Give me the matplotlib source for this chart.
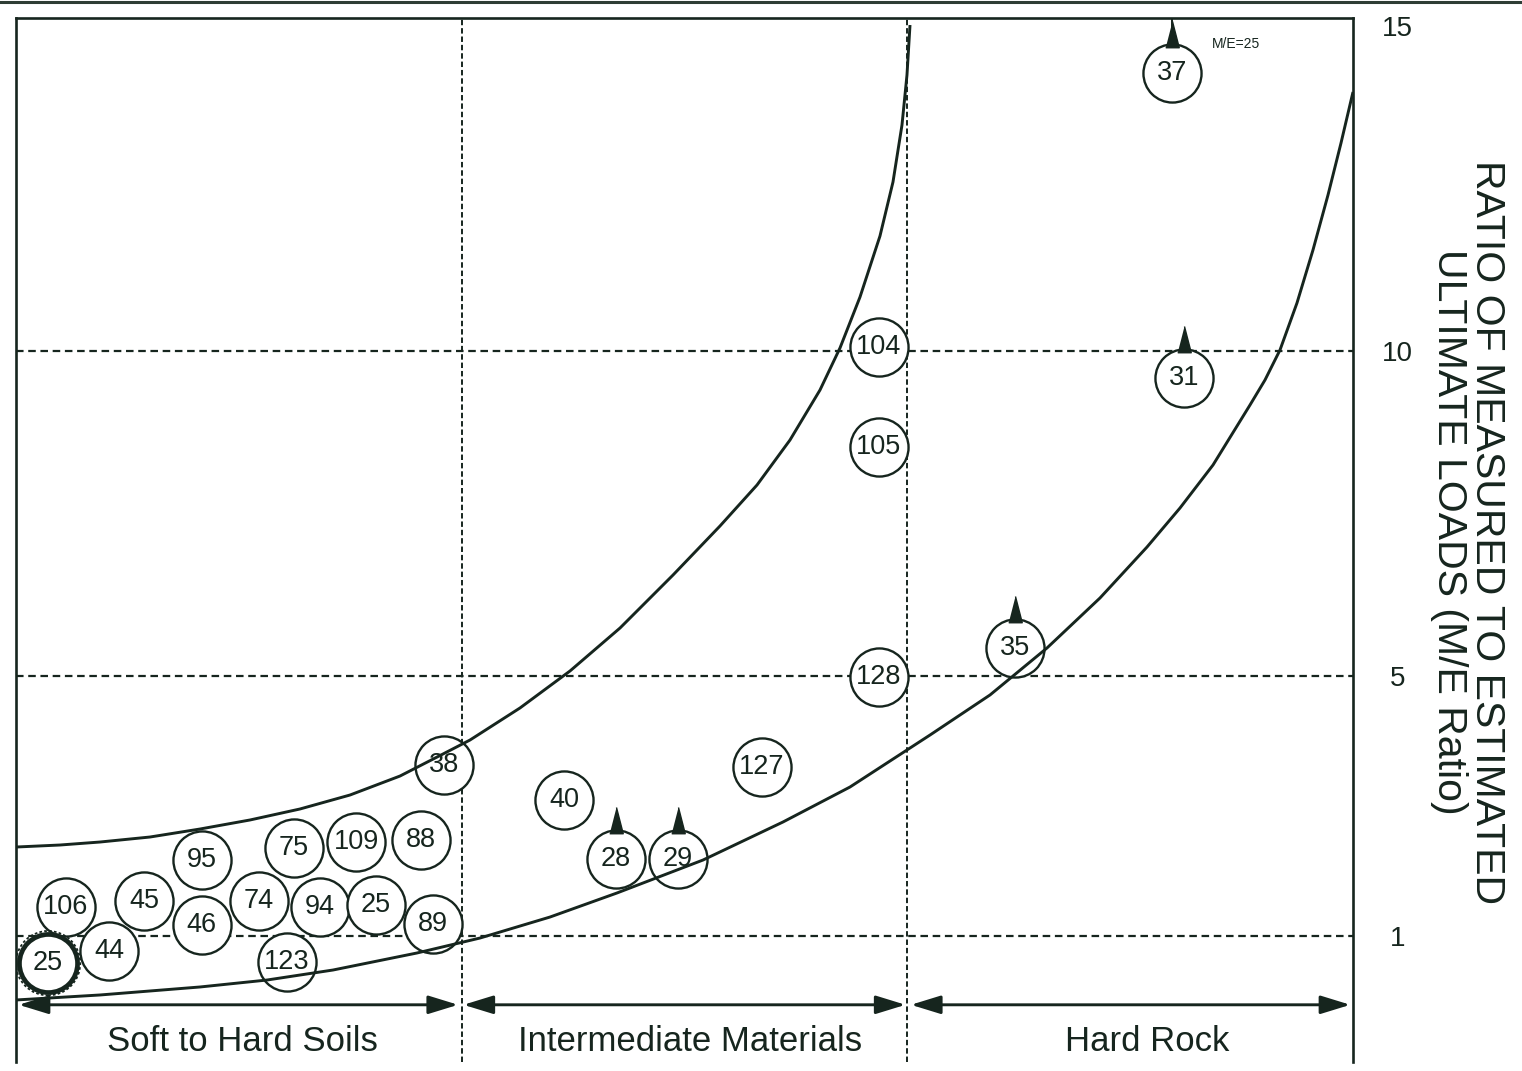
import matplotlib
matplotlib.use("Agg")
import matplotlib.pyplot as plt
from matplotlib.transforms import offset_copy
from matplotlib.lines import Line2D

plt.rcParams["font.family"] = ["Liberation Sans", "DejaVu Sans"]

INK = "#16251e"
NARROW = ["Liberation Sans Narrow", "Liberation Sans", "DejaVu Sans"]

# ---- data -------------------------------------------------------------
zones = ["Soft to Hard Soils", "Intermediate Materials", "Hard Rock"]
zone_label_x = [0.509, 1.512, 2.538]

y_ticks = [1, 5, 10, 15]

# load test case numbers, position across the material scale, M/E ratio
case_ids = ["37", "104", "31", "105", "35", "128", "127", "38", "40", "28",
            "29", "95", "75", "109", "88", "106", "45", "74", "94", "25",
            "46", "89", "44", "123", "25"]
case_x = [2.594, 1.936, 2.621, 1.936, 2.242, 1.936, 1.674, 0.960, 1.230, 1.346,
          1.485, 0.417, 0.624, 0.763, 0.909, 0.112, 0.287, 0.545, 0.682, 0.808,
          0.417, 0.936, 0.209, 0.608, 0.072]
me_ratio = [14.27, 10.06, 9.58, 8.52, 5.43, 4.98, 3.60, 3.63, 3.09, 2.18,
            2.18, 2.17, 2.35, 2.45, 2.48, 1.45, 1.54, 1.54, 1.45, 1.48,
            1.17, 1.18, 0.77, 0.60, 0.58]
# tests whose measured capacity was not reached (ratio is a lower bound)
lower_bound = [True, False, True, False, True, False, False, False, False, True,
               True, False, False, False, False, False, False, False, False, False,
               False, False, False, False, False]
highlight = [False] * 24 + [True]

# envelope of the observed ratios
upper_x = [0.0, 0.0987, 0.1885, 0.3007, 0.4129, 0.5251, 0.6372, 0.7494, 0.8616,
           0.9581, 1.0187, 1.1309, 1.2431, 1.3553, 1.4742, 1.5796, 1.6627,
           1.7367, 1.8040, 1.8489, 1.8938, 1.9386, 1.9678, 1.9880, 1.9992, 2.0060]
upper_y = [2.367, 2.398, 2.444, 2.521, 2.644, 2.783, 2.952, 3.167, 3.459,
           3.798, 4.013, 4.506, 5.075, 5.736, 6.551, 7.305, 7.936,
           8.628, 9.397, 10.044, 10.828, 11.766, 12.597, 13.474, 14.243, 15.012]
lower_x = [0.0, 0.1885, 0.4129, 0.5632, 0.7113, 0.8998, 1.0411, 1.1982, 1.3485,
           1.5415, 1.7210, 1.8713, 2.0509, 2.1855, 2.3134, 2.4323, 2.5378,
           2.6118, 2.6859, 2.7689, 2.8025, 2.8362, 2.8743, 2.9102, 2.9439,
           2.9731, 3.0000]
lower_y = [0.014, 0.091, 0.214, 0.321, 0.475, 0.737, 0.967, 1.290, 1.660,
           2.167, 2.752, 3.290, 4.090, 4.706, 5.429, 6.198, 6.982,
           7.582, 8.244, 9.167, 9.551, 10.013, 10.736, 11.551, 12.397,
           13.197, 13.982]

# ---- figure -----------------------------------------------------------
fig = plt.figure(figsize=(15.22, 10.71), dpi=100)
fig.patch.set_facecolor("white")
ax = fig.add_axes([16 / 1522, 9 / 1071, 1337 / 1522, 1044 / 1071])
ax.set_xlim(0, 3)
ax.set_ylim(-0.94, 15.12)

for side in ("left", "right", "top"):
    ax.spines[side].set_color(INK)
    ax.spines[side].set_linewidth(1.9)
ax.spines["bottom"].set_visible(False)

# grid
for yv in (1, 5, 10):
    ax.axhline(yv, color=INK, lw=1.6, dashes=(3.4, 2.1), zorder=1)
for xv in (1, 2):
    ax.axvline(xv, color=INK, lw=1.4, dashes=(2.8, 1.5), zorder=1)

# envelope curves
for cx_, cy_ in ((upper_x, upper_y), (lower_x, lower_y)):
    ax.plot(cx_, cy_, color=INK, lw=2.1, zorder=3,
            solid_joinstyle="round", solid_capstyle="butt")

# off-scale marker stem for the top test
for cid, cx, cy in zip(case_ids, case_x, me_ratio):
    if cid == "37":
        ax.plot([cx, cx], [cy, 15.12], color=INK, lw=1.4, zorder=1.5)
        ax.text(cx + 0.09, 14.72, "M/E=25", fontsize=10, color=INK,
                family=NARROW, ha="left", va="center", zorder=4)

# circles
for cx, cy, hl in zip(case_x, me_ratio, highlight):
    ax.scatter([cx], [cy], s=1750, facecolor="white", edgecolor=INK,
               linewidth=3.4 if hl else 1.7, zorder=2)
    if hl:
        ax.scatter([cx], [cy], s=2150, facecolor="none", edgecolor=INK,
                   linewidth=1.3, linestyle=(0, (1.5, 1.2)), zorder=2)

for cid, cx, cy in zip(case_ids, case_x, me_ratio):
    ax.text(cx, cy, cid, fontsize=19.5, color=INK, family=NARROW,
            ha="center", va="center", zorder=4)

# lower-bound flags sitting on top of the circles
tri = [(-0.27, -0.05), (0.27, -0.05), (0.0, 1.0)]
flag_tr = offset_copy(ax.transData, fig=fig, x=0, y=19.5, units="points")
for cx, cy, lb in zip(case_x, me_ratio, lower_bound):
    if lb:
        ax.plot([cx], [cy], marker=tri, markersize=36, color=INK,
                transform=flag_tr, zorder=3.5)

# zone extents
arrow_y = -0.06
zone_edges = [(0.006, 0.992), (1.004, 1.996), (2.008, 2.994)]
for (x0, x1), name, lx in zip(zone_edges, zones, zone_label_x):
    ax.annotate("", xy=(x0, arrow_y), xytext=(x1, arrow_y),
                arrowprops=dict(arrowstyle="<|-|>,head_length=1.3,head_width=0.4",
                                color=INK, lw=2.1, mutation_scale=14,
                                shrinkA=0, shrinkB=0),
                zorder=3)
    ax.text(lx, -0.63, name, fontsize=25, color=INK, ha="center", va="center")

# axis on the right
ax.set_xticks([])
ax.yaxis.tick_right()
ax.set_yticks(y_ticks)
ax.set_yticklabels([str(t) for t in y_ticks])
ax.tick_params(axis="y", length=0, pad=32, labelsize=20, colors=INK)
for lab in ax.get_yticklabels():
    lab.set_horizontalalignment("center")
    lab.set_family(NARROW)

fig.text(1468 / 1522, 1 - 532 / 1071,
         "RATIO OF MEASURED TO ESTIMATED\nULTIMATE LOADS (M/E Ratio)",
         rotation=270, ha="center", va="center", fontsize=29.5, color=INK,
         multialignment="center", linespacing=1.0)

# page edge rule
fig.add_artist(Line2D([0, 1], [1 - 2 / 1071, 1 - 2 / 1071], color="#2e3d35",
                      lw=2.2, transform=fig.transFigure))

fig.savefig("out.png", dpi=100, facecolor="white")
